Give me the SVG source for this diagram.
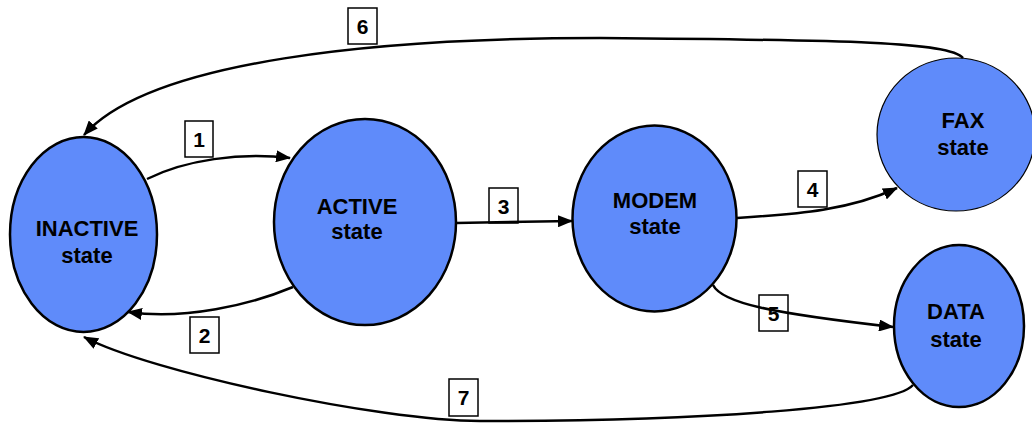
<svg xmlns="http://www.w3.org/2000/svg" width="1032" height="423" viewBox="0 0 1032 423">
  <style>
    .node { fill: #5F8BFA; stroke: #000; stroke-width: 2.5; }
    .thin { stroke-width: 1.2; }
    .ntext { font-family: "Liberation Sans", Arial, sans-serif; font-weight: bold; font-size: 22px; fill: #000; text-anchor: middle; }
    .conn { fill: none; stroke: #000; stroke-width: 2.5; marker-end: url(#arrow); }
    .lbox { fill: #fff; stroke: #000; stroke-width: 1.5; }
    .ltext { font-family: "Liberation Sans", Arial, sans-serif; font-weight: bold; font-size: 21px; fill: #000; text-anchor: middle; }
  </style>
  <defs>
    <marker id="arrow" markerUnits="userSpaceOnUse" markerWidth="15" markerHeight="12" refX="14" refY="6" orient="auto">
      <path d="M0,0 L15,6 L0,12 z" fill="#000"/>
    </marker>
  </defs>
  <rect width="1032" height="423" fill="#fff"/>

  <g id="nodes">
    <g id="inactive">
      <ellipse class="node" cx="83.5" cy="234.5" rx="73.5" ry="97.5"/>
      <text class="ntext" x="87" y="236">INACTIVE</text>
      <text class="ntext" x="87" y="263">state</text>
    </g>
    <g id="active">
      <ellipse class="node" cx="365" cy="222" rx="91" ry="103"/>
      <text class="ntext" x="357" y="214">ACTIVE</text>
      <text class="ntext" x="357" y="239">state</text>
    </g>
    <g id="modem">
      <ellipse class="node" cx="654.5" cy="218.5" rx="82" ry="93"/>
      <text class="ntext" x="655" y="208">MODEM</text>
      <text class="ntext" x="655" y="234">state</text>
    </g>
    <g id="fax">
      <ellipse class="node thin" cx="956" cy="134.5" rx="79" ry="76.5"/>
      <text class="ntext" x="963" y="128">FAX</text>
      <text class="ntext" x="963" y="155">state</text>
    </g>
    <g id="data">
      <ellipse class="node" cx="959" cy="326" rx="65" ry="81"/>
      <text class="ntext" x="956" y="319">DATA</text>
      <text class="ntext" x="956" y="347">state</text>
    </g>
  </g>

  <g id="labels">
    <g id="label1"><rect class="lbox" x="185" y="121" width="28" height="36"/><text class="ltext" x="199" y="147">1</text></g>
    <g id="label2"><rect class="lbox" x="190" y="317" width="29" height="36"/><text class="ltext" x="204.5" y="343">2</text></g>
    <g id="label3"><rect class="lbox" x="489" y="188" width="29" height="35"/><text class="ltext" x="503.5" y="214">3</text></g>
    <g id="label4"><rect class="lbox" x="798" y="171" width="29" height="36"/><text class="ltext" x="812.5" y="197">4</text></g>
    <g id="label5"><rect class="lbox" x="759" y="295" width="29" height="36"/><text class="ltext" x="773.5" y="321">5</text></g>
    <g id="label6"><rect class="lbox" x="348" y="8" width="29" height="36"/><text class="ltext" x="362.5" y="34">6</text></g>
    <g id="label7"><rect class="lbox" x="449" y="379" width="29" height="37"/><text class="ltext" x="463.5" y="405">7</text></g>
  </g>

  <g id="connectors">
    <path id="c1" class="conn" d="M147,179 C185,160 240,152 290,158"/>
    <path id="c2" class="conn" d="M293,287 C250,305 185,320 128,312"/>
    <path id="c3" class="conn" d="M456,223 L572,221"/>
    <path id="c4" class="conn" d="M737,218 C800,214 850,210 897,188"/>
    <path id="c5" class="conn" d="M713,285 C722,303 770,313 893,327"/>
    <path id="c6" class="conn" d="M963,58 C950,42 850,40 600,38 C380,38 150,60 84,135"/>
    <path id="c7" class="conn" d="M913,385 C893,408 700,421 480,421 C380,421 150,372 84,337"/>
  </g>
</svg>
